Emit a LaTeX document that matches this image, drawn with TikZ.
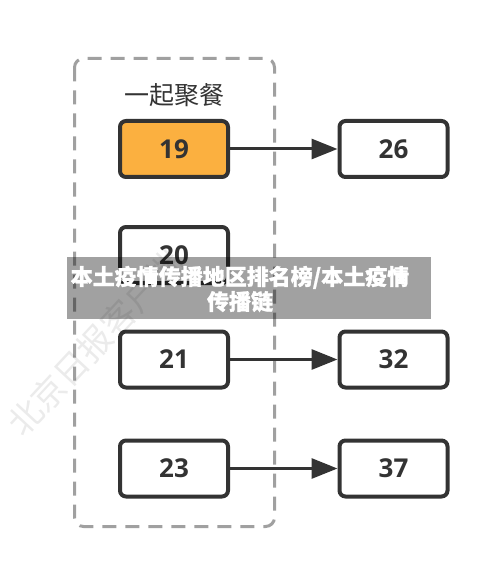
\documentclass[tikz,border=0pt]{standalone}
\usepackage{fontspec}
\setmainfont{Open Sans}
\newfontfamily\cjk{Noto Sans CJK SC}
\newfontfamily\cjkheavy[BoldFeatures={FakeBold=1.2}]{Noto Sans CJK SC}
\usetikzlibrary{arrows.meta}
\definecolor{boxline}{HTML}{333333}
\definecolor{dashgray}{HTML}{A0A0A0}
\definecolor{orangefill}{HTML}{FBB040}
\tikzset{
  numbox/.style={draw=boxline, line width=4pt, rounded corners=6pt, fill=white,
    minimum width=108pt, minimum height=56pt, inner sep=0pt,
    font=\fontsize{26}{30}\selectfont\bfseries, text=boxline},
  linkarrow/.style={draw=boxline, line width=3pt,
    -{Triangle[length=26pt,width=20pt]}},
}
\begin{document}
\begin{tikzpicture}[x=1pt,y=-1pt]
\useasboundingbox (0,0) rectangle (500,577);
\fill[white] (0,0) rectangle (500,577);
% dashed group frame
\draw[dashgray, line width=3pt, rounded corners=9pt, dash pattern=on 14pt off 9pt]
  (74.5,58.5) rectangle (274.5,526.5);
\node[font=\cjk\fontsize{25}{28}\selectfont, text=boxline] (title) at (174,95) {一起聚餐};
% boxes
\node[numbox, fill=orangefill] (n19) at (174,149) {19};
\node[numbox] (n26) at (393.5,149) {26};
\node[numbox] (n20) at (174,255) {20};
\node[numbox] (n21) at (174,359.5) {21};
\node[numbox] (n32) at (393.5,359.5) {32};
\node[numbox] (n23) at (174,468.5) {23};
\node[numbox] (n37) at (393.5,468.5) {37};
% connectors
\draw[linkarrow] (n19.east) -- (n26.west);
\draw[linkarrow] (n21.east) -- (n32.west);
\draw[linkarrow] (n23.east) -- (n37.west);
% watermark
\node[font=\cjk\fontsize{34}{34}\selectfont, text=black, opacity=0.08, rotate=47] (wm) at (95,343) {北京日报客户端};
% banner
\fill[black, opacity=0.37] (67,257) rectangle (431,319);
\node[font=\cjkheavy\bfseries\fontsize{22}{25}\selectfont, text=white, align=center] (banner) at (240,289)
  {本土疫情传播地区排名榜/本土疫情\\传播链};
\end{tikzpicture}
\end{document}
